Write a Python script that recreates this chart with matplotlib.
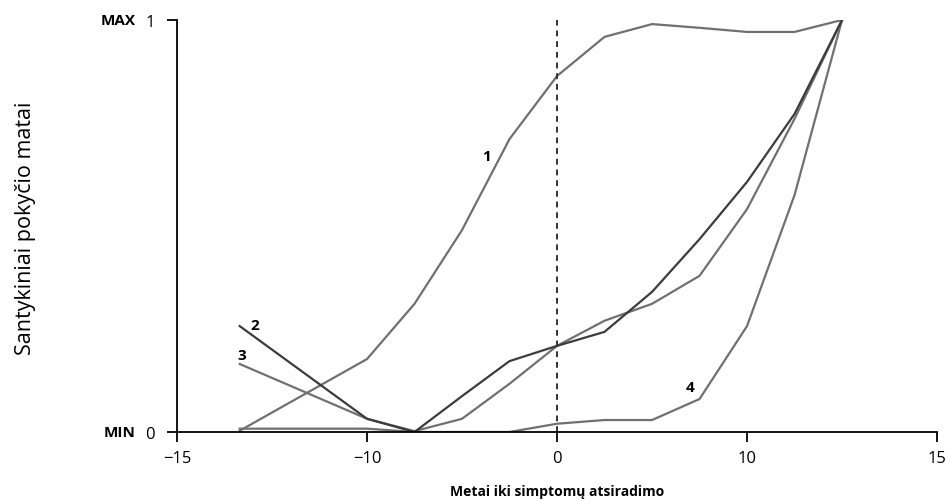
import matplotlib
matplotlib.use("Agg")
import matplotlib.pyplot as plt

plt.rcParams['font.family'] = ['Open Sans', 'DejaVu Sans']

# years (axis is drawn evenly: positions -20..20, labelled like the source)
years = [-16.7, -10, -7.5, -5, -2.5, 0, 2.5, 5, 7.5, 10, 12.5, 15]

curve1 = [0.003, 0.177, 0.311, 0.49, 0.711, 0.864, 0.959, 0.99, 0.981, 0.971, 0.971, 1.0]
curve2 = [0.257, 0.032, 0.0, 0.087, 0.172, 0.209, 0.243, 0.34, 0.468, 0.607, 0.772, 1.0]
curve3 = [0.165, 0.032, 0.002, 0.032, 0.117, 0.209, 0.27, 0.311, 0.379, 0.541, 0.76, 1.0]
curve4 = [0.008, 0.008, 0.0, 0.0, 0.0, 0.02, 0.029, 0.029, 0.08, 0.257, 0.575, 1.0]

xtick_pos = [-20, -10, 0, 10, 20]
xtick_labels = ['\u221215', '\u221210', '0', '10', '15']

fig = plt.figure(figsize=(9.49, 5.02), dpi=100)
ax = fig.add_axes([0.1865, 0.1375, 0.8009, 0.8207])

gray = '#707070'
ax.plot(years, curve4, color=gray, lw=1.6)
ax.plot(years, curve3, color=gray, lw=1.6)
ax.plot(years, curve1, color=gray, lw=1.6)
ax.plot(years, curve2, color='#3c3c3c', lw=1.6)

ax.axvline(0, color='#333333', lw=1.4, ls=(0, (3, 2.5)))

ax.text(-3.7, 0.67, '1', fontsize=11, fontweight='bold', ha='center', va='center')
ax.text(-15.9, 0.26, '2', fontsize=11, fontweight='bold', ha='center', va='center')
ax.text(-16.6, 0.188, '3', fontsize=11, fontweight='bold', ha='center', va='center')
ax.text(7.0, 0.11, '4', fontsize=11, fontweight='bold', ha='center', va='center')

ax.set_xlim(-20, 20)
ax.set_ylim(0, 1)
ax.set_xticks(xtick_pos)
ax.set_xticklabels(xtick_labels)
ax.set_yticks([0, 1])
ax.set_yticklabels(['0', '1'])
ax.tick_params(axis='both', direction='out', length=7, width=1.3, labelsize=12)
ax.tick_params(axis='y', pad=9)
ax.tick_params(axis='x', pad=6)

for s in ['top', 'right']:
    ax.spines[s].set_visible(False)
for s in ['left', 'bottom']:
    ax.spines[s].set_linewidth(1.3)

ax.annotate('MAX', xy=(0, 1), xycoords='axes fraction', xytext=(-30, 0),
            textcoords='offset points', ha='right', va='center',
            fontsize=11, fontweight='bold')
ax.annotate('MIN', xy=(0, 0), xycoords='axes fraction', xytext=(-30, 0),
            textcoords='offset points', ha='right', va='center',
            fontsize=11, fontweight='bold')

ax.set_xlabel('Metai iki simptomų atsiradimo', fontsize=10, fontweight='bold', labelpad=13)
fig.text(0.027, 0.545, 'Santykiniai pokyčio matai', rotation=90, ha='center', va='center',
         fontsize=15.5)

fig.savefig('out.png', dpi=100)
